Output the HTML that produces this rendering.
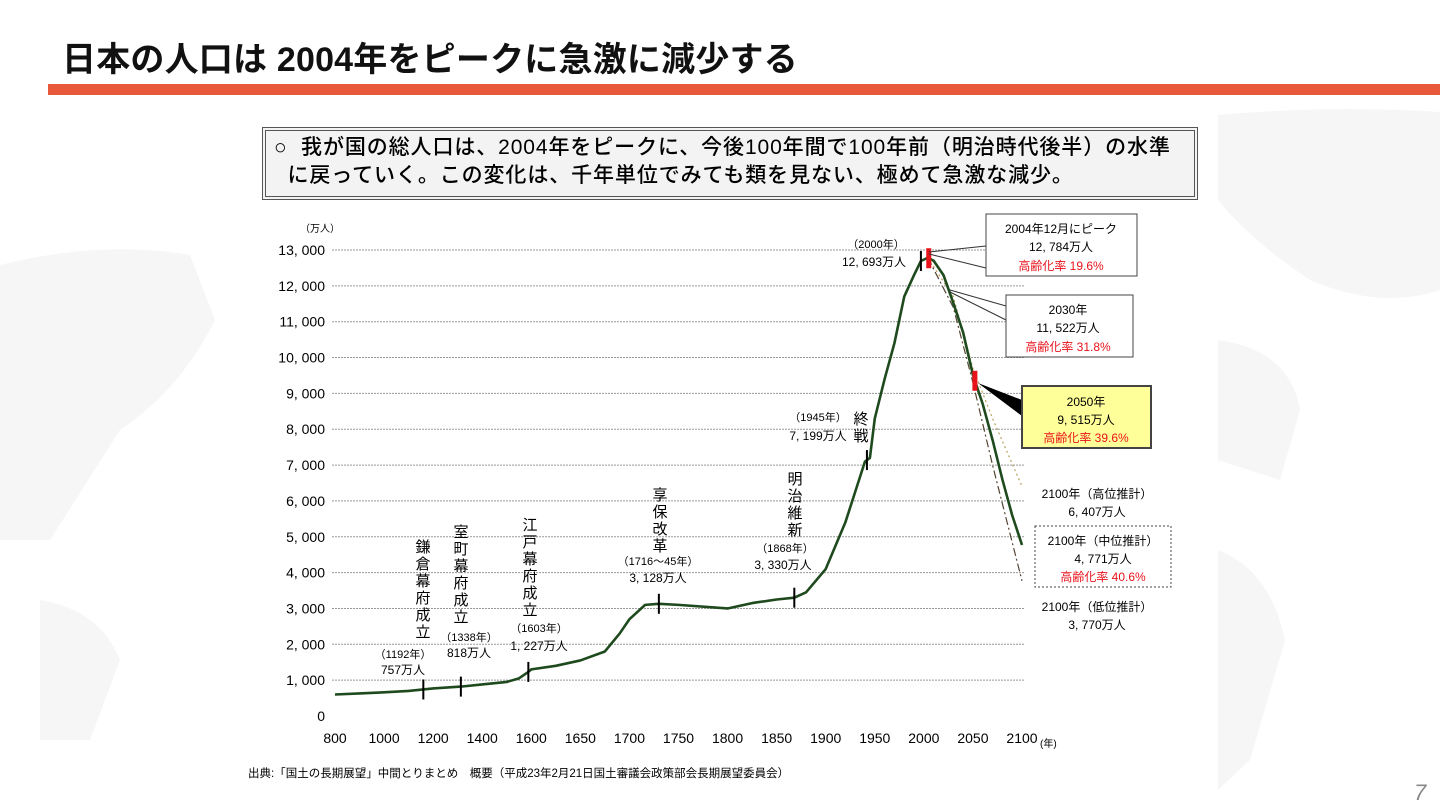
<!DOCTYPE html>
<html><head><meta charset="utf-8"><style>
body{margin:0;width:1440px;height:810px;background:#fff;overflow:hidden;font-family:"Liberation Sans","Noto Sans CJK JP",sans-serif;position:relative}
.t{position:absolute;white-space:nowrap}
</style></head><body>
<svg width="1440" height="810" style="position:absolute;left:0;top:0">
<g fill="#f6f6f6">
<path d="M0 265 Q100 240 190 255 L215 320 Q180 390 120 430 L50 540 L0 540Z"/>
<path d="M40 600 Q100 610 120 660 L90 740 L40 740Z"/>
<path d="M1218 115 Q1330 105 1440 112 L1440 290 Q1380 310 1310 280 Q1250 240 1218 200Z"/>
<path d="M1218 340 Q1290 350 1300 410 L1280 480 L1218 460Z"/>
<path d="M1218 550 Q1270 570 1285 640 L1250 760 L1218 790Z"/>
</g></svg>
<div class="t" style="left:62px;top:32px;font-size:34px;font-weight:bold;color:#111;letter-spacing:0.2px">日本の人口は 2004年をピークに急激に減少する</div>
<div style="position:absolute;left:48px;top:84px;width:1392px;height:11px;background:#E8583A"></div>
<div style="position:absolute;left:262px;top:127px;width:920px;height:62px;border:4px double #555;background:#f3f3f3;font-size:21px;line-height:28px;padding:3px 0 0 8px;color:#000;letter-spacing:0.9px;font-weight:500;white-space:nowrap">
<div>○ &nbsp;我が国の総人口は、2004年をピークに、今後100年間で100年前（明治時代後半）の水準</div>
<div>&nbsp;&nbsp;に戻っていく。この変化は、千年単位でみても類を見ない、極めて急激な減少。</div></div>
<svg id="c" width="1440" height="810" style="position:absolute;left:0;top:0"></svg>
<div class="t" style="left:248px;top:765px;font-size:11.5px">出典:「国土の長期展望」中間とりまとめ　概要（平成23年2月21日国土審議会政策部会長期展望委員会）</div>
<div class="t" style="left:1414px;top:780px;font-size:22px;color:#888;font-style:italic">7</div>
<script>
const xTicks=[800,1000,1200,1400,1600,1650,1700,1750,1800,1850,1900,1950,2000,2050,2100];
const yTicks=[0,1000,2000,3000,4000,5000,6000,7000,8000,9000,10000,11000,12000,13000];
const years=[800,900,1000,1100,1160,1200,1313,1400,1500,1550,1588,1600,1625,1650,1675,1690,1700,1716,1730,1750,1800,1825,1850,1868,1880,1900,1920,1940,1945,1950,1960,1970,1980,1990,1997,2004,2010,2020,2030,2040,2050,2060,2070,2080,2090,2100];
const pop=[600,630,660,700,740,770,820,880,950,1050,1230,1300,1400,1550,1800,2300,2700,3100,3130,3100,3000,3150,3250,3300,3450,4100,5400,7100,7199,8300,9400,10400,11700,12300,12693,12784,12700,12300,11522,10700,9515,8700,7700,6600,5600,4771];
const highYears=[2004,2030,2050,2070,2100];
const highPop=[12784,11700,9700,8300,6407];
const lowYears=[2004,2030,2050,2070,2100];
const lowPop=[12784,11400,9300,7000,3770];
const markYears=[1160,1313,1588,1730,1868,1942,1997];
const redYears=[2005,2052];
const x0=335,x1=1022,y0=716,y1=250;
function X(v){let n=xTicks.length-1;for(let i=0;i<n;i++){if(v<=xTicks[i+1]||i==n-1){return x0+(i+(v-xTicks[i])/(xTicks[i+1]-xTicks[i]))*(x1-x0)/n;}}}
function Y(v){return y0-(v/13000)*(y0-y1);}
function yAt(yr){for(let i=0;i<years.length-1;i++){if(yr<=years[i+1])return pop[i]+(pop[i+1]-pop[i])*(yr-years[i])/(years[i+1]-years[i]);}return pop[pop.length-1];}
const s=document.getElementById('c'),NS='http://www.w3.org/2000/svg';
function el(t,a,p){const e=document.createElementNS(NS,t);for(const k in a)e.setAttribute(k,a[k]);(p||s).appendChild(e);return e;}
yTicks.forEach(v=>{
 if(v>0){const g=el('line',{x1:332,x2:1025,y1:Y(v),y2:Y(v),stroke:'#999','stroke-dasharray':'2,1','stroke-width':1});
 
 }
 const t=el('text',{x:325,y:Y(v)+5,'text-anchor':'end','font-size':14,fill:'#000'});
 
 
 t.textContent=v.toLocaleString('en-US').replace(',',', ');
});
xTicks.forEach(v=>{const t=el('text',{x:X(v),y:743,'text-anchor':'middle','font-size':14});
 
 
 t.textContent=v;});
const ax=el('text',{x:1040,y:747,'font-size':10});ax.textContent='(年)';


const ay=el('text',{x:300,y:232,'font-size':10});ay.textContent='（万人）';


const hp=el('polyline',{points:highYears.map((y,i)=>X(y)+','+Y(highPop[i])).join(' '),fill:'none',stroke:'#b8a060','stroke-width':1.2,'stroke-dasharray':'2,3'});


const lp=el('polyline',{points:lowYears.map((y,i)=>X(y)+','+Y(lowPop[i])).join(' '),fill:'none',stroke:'#554433','stroke-width':1.2,'stroke-dasharray':'8,3,2,3'});


const mp=el('polyline',{points:years.map((y,i)=>X(y)+','+Y(pop[i])).join(' '),fill:'none',stroke:'#1e4a1e','stroke-width':2.6,'stroke-linejoin':'round'});


markYears.forEach(yr=>{const m=el('line',{x1:X(yr),x2:X(yr),y1:Y(yAt(yr))-10,y2:Y(yAt(yr))+10,stroke:'#000','stroke-width':2});
 
 });
redYears.forEach(yr=>{const m=el('rect',{x:X(yr)-2.5,y:Y(yAt(yr))-10,width:5,height:20,fill:'#e8121a'});
 
 });
function lbl(x,y,txt,size,name,col){const t=el('text',{x:x,y:y,'text-anchor':'middle','font-size':size||12,fill:col||'#000'});t.textContent=txt;
 
 }
function vert(x,y,txt,name){[...txt].forEach((c,i)=>lbl(x,y+i*17,c,15,name));}
vert(423,552,'鎌倉幕府成立','event-label');vert(461,537,'室町幕府成立','event-label');vert(530,530,'江戸幕府成立','event-label');
vert(660,500,'享保改革','event-label');vert(795,484,'明治維新','event-label');vert(861,424,'終戦','event-label');
lbl(403,658,'（1192年）',11,'note');lbl(403,674,'757万人',12,'note');
lbl(469,641,'（1338年）',11,'note');lbl(469,657,'818万人',12,'note');
lbl(539,632,'（1603年）',11,'note');lbl(539,650,'1, 227万人',12,'note');
lbl(658,565,'（1716～45年）',11,'note');lbl(658,582,'3, 128万人',12,'note');
lbl(785,552,'（1868年）',11,'note');lbl(783,569,'3, 330万人',12,'note');
lbl(818,421,'（1945年）',11,'note');lbl(818,440,'7, 199万人',12,'note');
lbl(876,248,'（2000年）',11,'note');lbl(874,266,'12, 693万人',12,'note');
const conn=[[929,252,986,246],[929,254,986,268],[950,290,1006,306],[950,292,1006,320]];
conn.forEach(c=>{const l=el('line',{x1:c[0],y1:c[1],x2:c[2],y2:c[3],stroke:'#333','stroke-width':1});
 
 });
const cl=el('polygon',{points:'978,383 1022,400 1022,416',fill:'#000'});


function box(x,y,w,h,fill,sw,dash,name){const b=el('rect',{x:x,y:y,width:w,height:h,fill:fill,stroke:'#444','stroke-width':sw,'stroke-dasharray':dash||'none'});
 
 }
box(986,214,151,62,'#fff',1,'','peak-callout');
lbl(1061,233,'2004年12月にピーク',12,'callout-text');lbl(1061,251,'12, 784万人',12,'callout-text');lbl(1061,270,'高齢化率 19.6%',12,'callout-text','#e8121a');
box(1006,295,127,62,'#fff',1,'','callout-2030');
lbl(1068,314,'2030年',12,'callout-text');lbl(1068,332,'11, 522万人',12,'callout-text');lbl(1068,351,'高齢化率 31.8%',12,'callout-text','#e8121a');
box(1022,386,129,62,'#ffff99',2,'','callout-2050');
lbl(1086,406,'2050年',12,'callout-text');lbl(1086,424,'9, 515万人',12,'callout-text');lbl(1086,442,'高齢化率 39.6%',12,'callout-text','#e8121a');
lbl(1097,498,'2100年（高位推計）',12,'callout-text');lbl(1097,516,'6, 407万人',12,'callout-text');
box(1035,526,136,61,'#fff',1,'2,2','callout-2100-mid');
lbl(1103,545,'2100年（中位推計）',12,'callout-text');lbl(1103,563,'4, 771万人',12,'callout-text');lbl(1103,581,'高齢化率 40.6%',12,'callout-text','#e8121a');
lbl(1097,611,'2100年（低位推計）',12,'callout-text');lbl(1097,629,'3, 770万人',12,'callout-text');
</script>
</body></html>
